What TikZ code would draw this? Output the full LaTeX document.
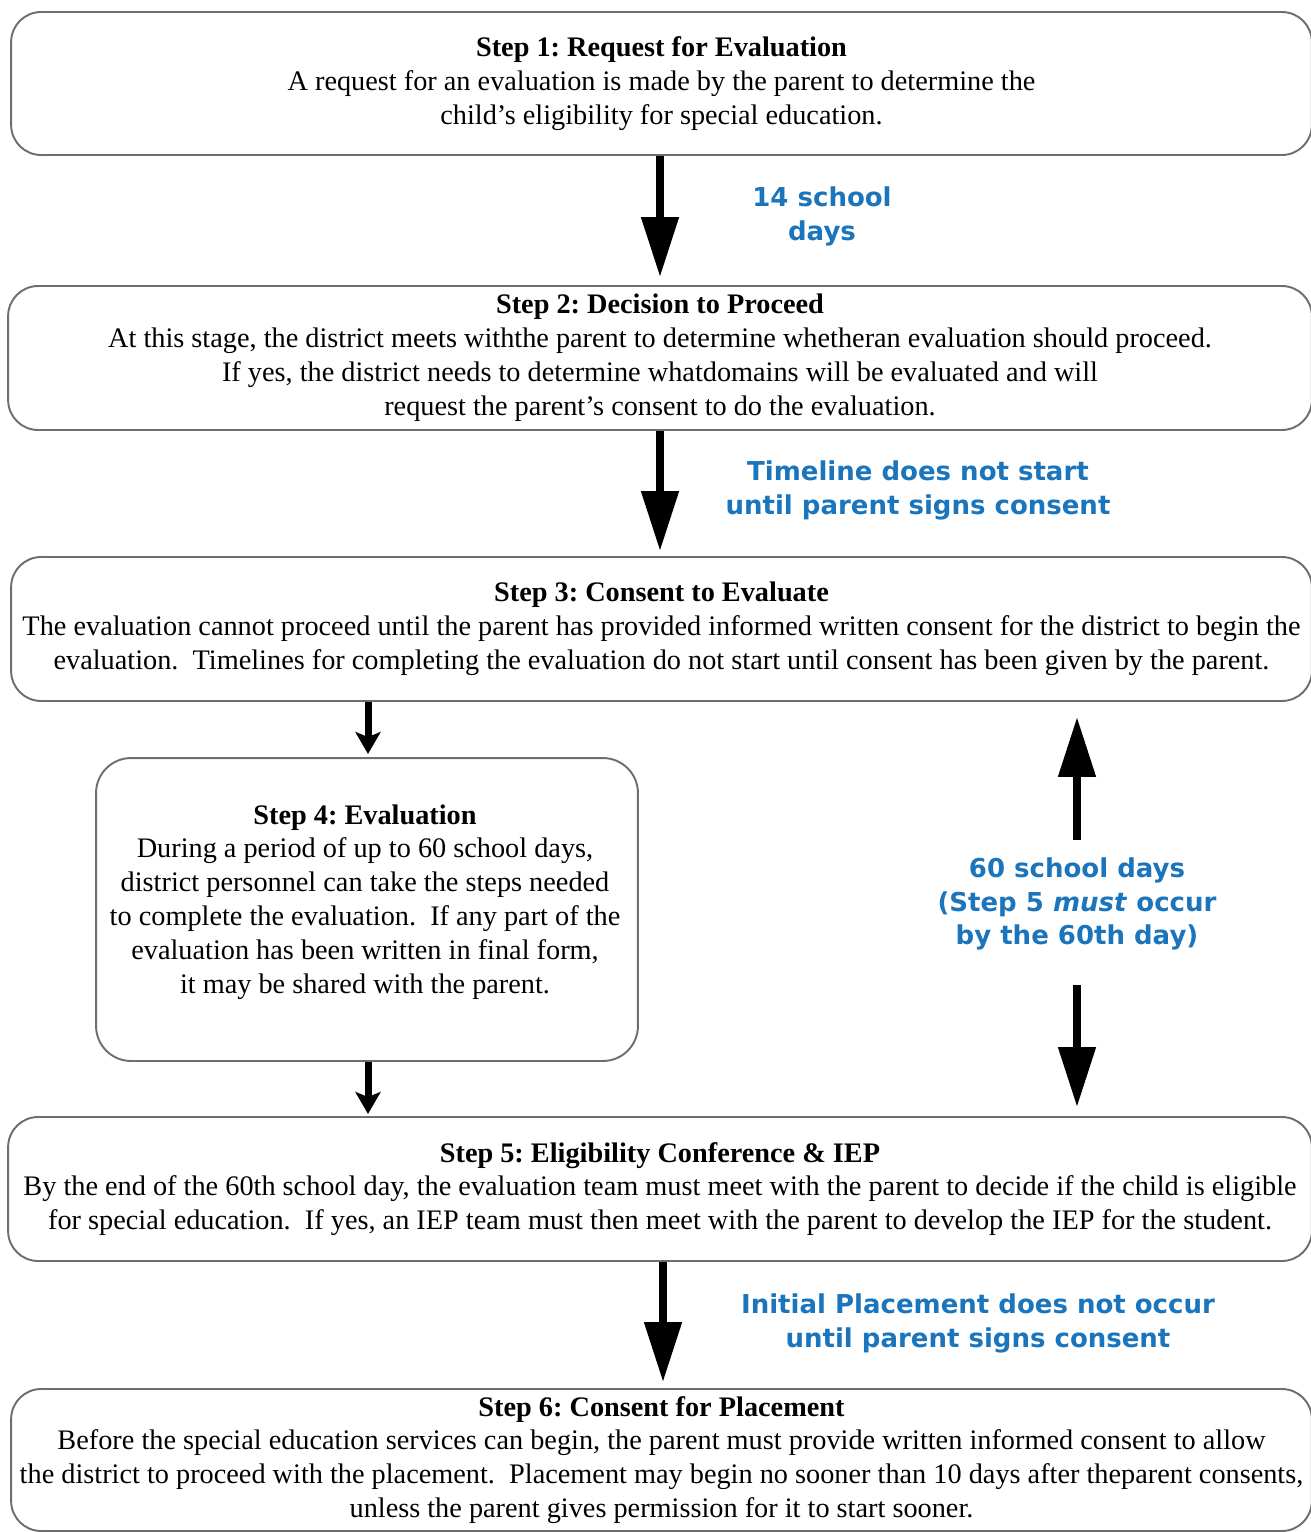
\documentclass[tikz,border=0pt]{standalone}
\usepackage{fontspec}
\setmainfont{Liberation Serif}
\newfontfamily\bluefont{DejaVu Sans}
\usetikzlibrary{arrows.meta}
\definecolor{labelblue}{RGB}{27,117,188}
\definecolor{boxgray}{RGB}{110,110,110}
\frenchspacing
\begin{document}
\begin{tikzpicture}[x=0.02cm,y=-0.02cm,
  box/.style={draw=boxgray, line width=1.1pt, rounded corners=0.6cm, align=center, inner sep=0pt,
    font=\fontsize{16.1}{19.3}\selectfont},
  bodytext/.style={align=center, inner sep=0pt, font=\fontsize{16.1}{19.3}\selectfont},
  bigarrow/.style={line width=0.16cm, -{Triangle[length=1.2cm,width=0.72cm]}},
  smallarrow/.style={line width=0.14cm, -{Stealth[length=0.44cm,width=0.5cm,inset=0.1cm]}},
  lbl/.style={text=labelblue, align=center, inner sep=0pt,
    font=\bluefont\bfseries\fontsize{14.8}{19.3}\selectfont}]
\useasboundingbox (0,0) rectangle (1311,1532);

\node[box, minimum width=26.02cm, minimum height=2.86cm] (b1) at (661.5,83.5)
  {\textbf{Step 1: Request for Evaluation}\\
   A request for an evaluation is made by the parent to determine the\\
   child's eligibility for special education.};

\node[box, minimum width=26.08cm, minimum height=2.88cm] (b2) at (660,358)
  {\textbf{Step 2: Decision to Proceed}\\
   At this stage, the district meets withthe parent to determine whetheran evaluation should proceed.\\
   If yes, the district needs to determine whatdomains will be evaluated and will\\
   request the parent's consent to do the evaluation.};

\node[box, minimum width=26.02cm, minimum height=2.88cm] (b3) at (661.5,629)
  {\textbf{Step 3: Consent to Evaluate}\\
   The evaluation cannot proceed until the parent has provided informed written consent for the district to begin the\\
   evaluation.\ \ Timelines for completing the evaluation do not start until consent has been given by the parent.};

\node[box, rounded corners=0.7cm, minimum width=10.84cm, minimum height=6.06cm] (b4) at (367,909.5) {};
\node[bodytext] (t4) at (365,902)
  {\textbf{Step 4: Evaluation}\\
   During a period of up to 60 school days,\\
   district personnel can take the steps needed\\
   to complete the evaluation.\ \ If any part of the\\
   evaluation has been written in final form,\\
   it may be shared with the parent.};

\node[box, minimum width=26.08cm, minimum height=2.88cm] (b5) at (660,1189)
  {\textbf{Step 5: Eligibility Conference \& IEP}\\
   By the end of the 60th school day, the evaluation team must meet with the parent to decide if the child is eligible\\
   for special education.\ \ If yes, an IEP team must then meet with the parent to develop the IEP for the student.};

\node[box, minimum width=26.02cm, minimum height=2.84cm] (b6) at (661.5,1460)
  {\textbf{Step 6: Consent for Placement}\\
   Before the special education services can begin, the parent must provide written informed consent to allow\\
   the district to proceed with the placement.\ \ Placement may begin no sooner than 10 days after theparent consents,\\
   unless the parent gives permission for it to start sooner.};

\node[lbl] (l1) at (822,216) {14 school\\days};
\node[lbl] (l2) at (918,490) {Timeline does not start\\until parent signs consent};
\node[lbl] (l3) at (1077,904) {60 school days\\(Step 5 \textit{must} occur\\by the 60th day)};
\node[lbl] (l4) at (978,1323) {Initial Placement does not occur\\until parent signs consent};

\coordinate (xa) at (660,0);
\coordinate (xs) at (368,0);
\coordinate (xr) at (1077,0);
\coordinate (xb) at (663,0);
\coordinate (up0) at (1077,840);
\coordinate (dn0) at (1077,985);

\draw[bigarrow, shorten >=0.16cm] (b1.south -| xa) -- (b2.north -| xa);
\draw[bigarrow, shorten >=0.1cm] (b2.south -| xa) -- (b3.north -| xa);
\draw[smallarrow, shorten >=0.06cm] (b3.south -| xs) -- (b4.north -| xs);
\draw[smallarrow, shorten >=0.04cm] (b4.south -| xs) -- (b5.north -| xs);
\draw[bigarrow, shorten >=0.3cm] (up0) -- (b3.south -| xr);
\draw[bigarrow, shorten >=0.18cm] (dn0) -- (b5.north -| xr);
\draw[bigarrow, shorten >=0.12cm] (b5.south -| xb) -- (b6.north -| xb);
\end{tikzpicture}
\end{document}
